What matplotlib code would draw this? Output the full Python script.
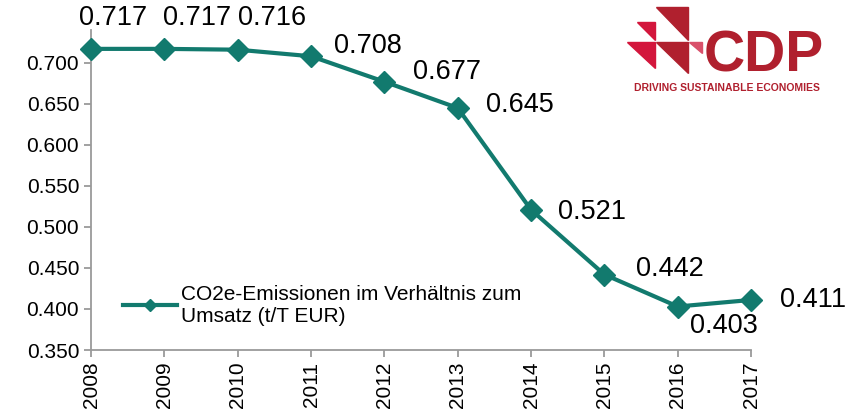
import matplotlib.pyplot as plt
from matplotlib.patches import Polygon

plt.rcParams['font.family'] = ['Liberation Sans', 'DejaVu Sans']

years = [2008, 2009, 2010, 2011, 2012, 2013, 2014, 2015, 2016, 2017]
ratio = [0.717, 0.717, 0.716, 0.708, 0.677, 0.645, 0.521, 0.442, 0.403, 0.411]
series_name = "CO2e-Emissionen im Verhältnis zum\nUmsatz (t/T EUR)"

# label offsets in pixels (dx, dy) from each point
offsets = [(22, 31), (33, 31), (34, 32), (57, 10), (63, 10),
           (62, 3), (61, -2), (66, 6), (46, -19), (62, 0)]

teal = '#127A6E'
grey = '#9A9A9A'

fig = plt.figure(figsize=(8.6, 4.11), dpi=100)
ax = fig.add_axes([91 / 860, 1 - 350 / 411, 660 / 860, 320 / 411])

ax.plot(years, ratio, color=teal, lw=3, marker='D', markersize=11,
        label=series_name, clip_on=False, zorder=3)

for x, y, (dx, dy) in zip(years, ratio, offsets):
    ax.annotate(f"{y:.3f}", (x, y), xytext=(dx, dy), textcoords='offset pixels',
                ha='center', va='center', fontsize=19.5, color='black')

ax.set_xlim(2008, 2017)
ax.set_ylim(0.35, 0.74)
ax.set_yticks([0.35, 0.40, 0.45, 0.50, 0.55, 0.60, 0.65, 0.70])
ax.set_yticklabels([f"{v:.3f}" for v in ax.get_yticks()])
ax.set_xticks(years)
ax.set_xticklabels([str(y) for y in years], rotation=90)
ax.tick_params(labelsize=15, colors=grey, labelcolor='black', length=5, width=1.3)

for s in ['top', 'right']:
    ax.spines[s].set_visible(False)
for s in ['left', 'bottom']:
    ax.spines[s].set_color(grey)
    ax.spines[s].set_linewidth(1.3)

leg = ax.legend(loc='lower left', bbox_to_anchor=(0.036, 0.05), frameon=False,
                fontsize=15, handlelength=2.6, handletextpad=0.2,
                borderaxespad=0, labelspacing=0.2)
for h in leg.legend_handles:
    h.set_markersize(6)

# CDP logo (decorative)
W, H = 860, 411
tris = [
    ([(656, 7), (688, 7), (688, 40)], '#B0202E'),
    ([(637, 22), (655, 22), (655, 40)], '#D3163C'),
    ([(627, 42), (655, 42), (655, 68)], '#D3163C'),
    ([(656, 42), (688, 42), (688, 73)], '#B0202E'),
    ([(689, 42), (702, 42), (702, 53)], '#D9506A'),
]
for pts, c in tris:
    fig.patches.append(Polygon([(px / W, 1 - py / H) for px, py in pts],
                               closed=True, color=c, transform=fig.transFigure))
fig.text(704 / W, 1 - 72 / H, "CDP", fontsize=41, fontweight='bold',
         color='#B0202E', ha='left', va='baseline')
fig.text(727 / W, 1 - 91 / H, "DRIVING SUSTAINABLE ECONOMIES", fontsize=7.5,
         fontweight='bold', color='#B0202E', ha='center', va='baseline')

fig.savefig('out.png', dpi=100)
